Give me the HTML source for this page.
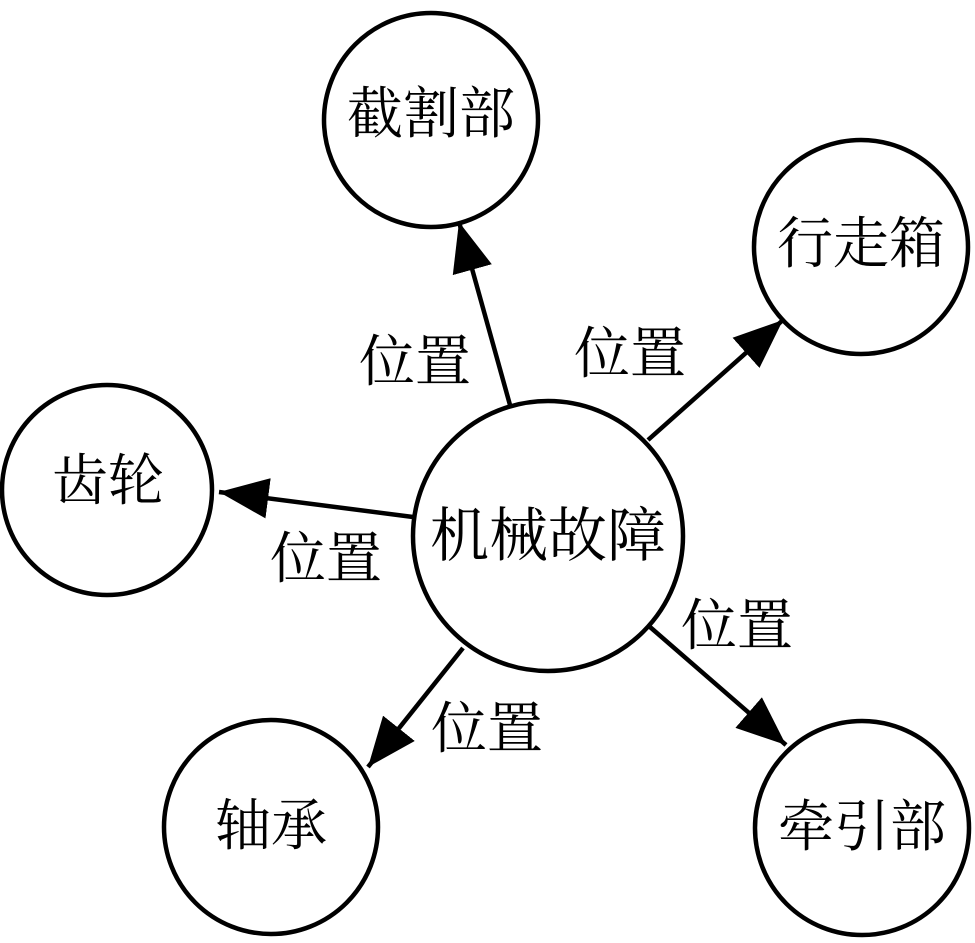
<!DOCTYPE html>
<html><head><meta charset="utf-8"><style>
html,body{margin:0;padding:0;background:#fff;}
text{font-family:"Liberation Serif","Noto Serif CJK SC",serif;font-size:56px;fill:#000;text-anchor:middle;dominant-baseline:central;}
</style></head><body>
<svg width="975" height="938" viewBox="0 0 975 938" xmlns="http://www.w3.org/2000/svg">
<defs><marker id="a" markerWidth="12" markerHeight="9" refX="11" refY="4.5" orient="auto" markerUnits="strokeWidth"><path d="M0,0 L11,4.5 L0,9 Z" fill="#000"/></marker></defs>
<g fill="none" stroke="#000" stroke-width="4.5">
<circle cx="548" cy="536" r="135"/>
<circle cx="431" cy="120" r="107"/>
<circle cx="861" cy="247" r="107"/>
<circle cx="107" cy="490" r="105"/>
<circle cx="271" cy="827" r="107"/>
<circle cx="862" cy="828" r="107"/>
<line x1="510" y1="405" x2="459" y2="222" marker-end="url(#a)"/>
<line x1="648" y1="440" x2="783" y2="320" marker-end="url(#a)"/>
<line x1="413" y1="517" x2="219" y2="492" marker-end="url(#a)"/>
<line x1="463" y1="648" x2="368" y2="767" marker-end="url(#a)"/>
<line x1="650" y1="627" x2="786" y2="745" marker-end="url(#a)"/>
</g>
<text x="548" y="536" style="font-size:59px">机械故障</text>
<text x="431" y="115">截割部</text>
<text x="861" y="245">行走箱</text>
<text x="108" y="482">齿轮</text>
<text x="271" y="827">轴承</text>
<text x="862" y="828">牵引部</text>
<text x="415" y="363">位置</text>
<text x="630" y="355">位置</text>
<text x="326" y="560">位置</text>
<text x="487" y="730">位置</text>
<text x="737" y="627">位置</text>
</svg>
</body></html>
